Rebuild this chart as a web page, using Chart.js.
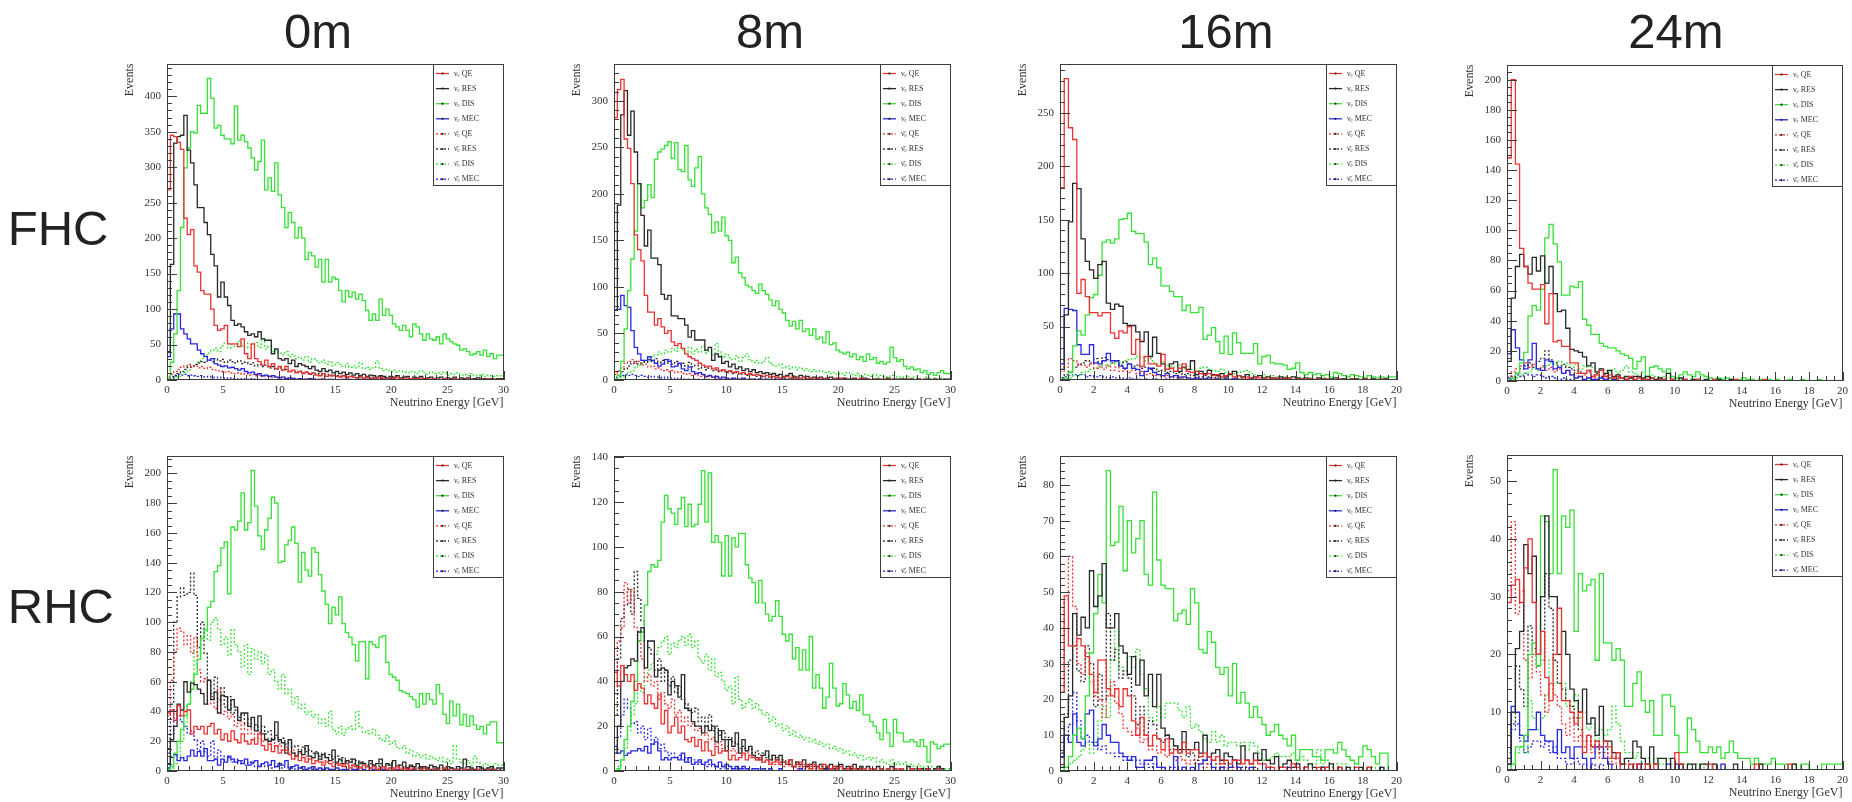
<!DOCTYPE html>
<html><head><meta charset="utf-8">
<script src="https://cdn.jsdelivr.net/npm/chart.js@4.4.1/dist/chart.umd.min.js"></script>
<style>
html,body{margin:0;padding:0;background:#fff;}
body{width:1852px;height:802px;position:relative;overflow:hidden;font-family:'Liberation Sans',Arial,sans-serif;}
.ttl{position:absolute;font-size:49px;line-height:49px;color:#222;white-space:nowrap;}
.ctl{width:200px;text-align:center;}
canvas{position:absolute;}
</style></head><body>
<script>
// ---------- labels ----------
const columnTitles = ['0m','8m','16m','24m'];
const rowTitles = ['FHC','RHC'];
const seriesLabels = ['\u03BD\u2091 QE','\u03BD\u2091 RES','\u03BD\u2091 DIS','\u03BD\u2091 MEC','\u03BD\u0304\u2091 QE','\u03BD\u0304\u2091 RES','\u03BD\u0304\u2091 DIS','\u03BD\u0304\u2091 MEC'];
const xAxisTitle = 'Neutrino Energy [GeV]';
const yAxisTitle = 'Events';
const binWidthWide = 0.3;   // 0-30 GeV histograms (100 bins)
const binWidthNarrow = 0.25; // 0-20 GeV histograms (80 bins)

// ---------- FHC 0m ----------
const fhc0_nueQE = [135,268,345,343,335,325,228,205,212,161,152,126,121,121,100,77,70,72,77,51,51,51,47,58,37,30,51,30,26,21,28,19,23,16,19,14,19,12,14,10,12,9,11,8,10,7,6,9,5,7,6,5,4,6,3,5,4,3,5,2,4,3,2,3,4,2,1,3,2,4,2,1,3,2,1,2,3,1,2,1,2,1,1,2,0,1,2,1,0,1,2,1,0,1,1,0,2,1,0,1];
const fhc0_nueRES = [5,40,163,334,343,345,373,324,306,275,243,243,222,205,177,161,117,138,117,105,84,77,79,75,68,63,65,61,68,58,56,56,37,44,30,28,30,23,28,19,23,21,19,16,19,14,12,16,12,14,10,12,9,11,8,10,7,9,6,8,5,7,6,4,6,5,3,5,4,6,3,4,5,2,4,3,5,2,3,4,2,3,4,2,3,2,4,1,3,2,3,1,2,3,1,2,1,2,1,2];
const fhc0_nueDIS = [0,3,25,65,126,215,299,327,350,348,387,376,376,425,397,355,359,345,340,340,333,386,338,345,336,327,313,296,308,338,268,285,266,306,261,243,215,236,222,200,215,200,170,180,175,159,170,138,170,138,145,142,126,110,126,117,124,114,121,112,98,84,93,84,114,91,100,91,79,75,70,77,70,61,79,75,65,56,65,58,56,61,51,65,58,54,51,49,42,44,40,35,37,40,35,42,33,37,30,35];
const fhc0_nueMEC = [10,33,72,93,93,72,65,58,51,51,42,37,33,28,30,23,21,19,20,17,18,16,14,16,12,10,11,8,9,6,7,5,6,4,3,4,2,3,2,1,2,1,1,2,1,0,1,1,0,1,1,0,0,1,0,1,0,0,1,0,0,1,0,0,0,1,0,0,0,0,1,0,0,0,0,0,1,0,0,0,0,0,0,1,0,0,0,0,0,0,0,0,1,0,0,0,0,0,0,0];
const fhc0_nuebarQE = [2,5,8,12,15,18,20,22,18,20,17,19,16,18,15,14,13,12,11,12,10,9,10,8,9,7,8,6,7,5,6,5,4,5,3,4,3,2,3,2,2,1,2,1,2,1,1,2,0,1,1,0,1,1,0,1,0,1,0,0,1,0,0,1,0,0,1,0,0,0,1,0,0,0,1,0,0,0,0,1,0,0,0,0,1,0,0,0,0,0,1,0,0,0,0,0,0,1,0,0];
const fhc0_nuebarRES = [0,1,3,6,9,12,15,18,20,22,24,26,25,28,26,30,27,29,25,28,26,24,27,23,25,22,24,20,22,19,21,17,19,15,17,14,15,12,13,11,12,10,11,9,10,8,9,7,8,6,7,6,5,6,4,5,4,3,4,3,3,2,3,2,2,3,1,2,2,1,2,1,1,2,1,1,0,1,1,0,1,1,0,1,0,1,0,0,1,0,0,1,0,0,1,0,0,0,1,0];
const fhc0_nuebarDIS = [0,0,1,3,5,8,10,14,18,22,25,30,35,38,42,45,40,48,52,45,50,47,55,48,52,45,50,53,46,58,44,48,40,42,38,35,40,33,36,30,32,28,33,25,30,27,24,28,22,26,20,24,22,19,23,18,20,17,24,16,18,15,17,27,16,13,15,12,14,11,13,12,10,12,11,9,13,10,8,11,9,10,8,11,7,9,8,10,7,8,6,9,7,6,8,5,7,6,5,6];
const fhc0_nuebarMEC = [1,3,5,7,8,7,8,6,7,6,5,6,4,5,4,3,4,3,2,3,2,2,1,2,1,1,2,1,0,1,1,0,1,0,0,1,0,0,1,0,0,0,1,0,0,0,0,1,0,0,0,0,0,0,1,0,0,0,0,0,0,0,0,0,0,0,1,0,0,0,0,0,0,0,0,0,0,0,0,0,0,0,0,0,0,0,0,0,0,0,0,0,0,0,0,0,0,0,0,0];

// ---------- FHC 8m ----------
const fhc8_nueQE = [146,282,312,323,259,249,211,156,140,128,91,73,73,59,66,57,50,53,41,37,39,34,28,25,23,21,18,16,14,15,12,13,10,11,9,10,8,9,7,8,6,7,5,6,5,4,5,3,4,3,2,3,4,2,3,1,2,3,1,2,1,2,1,1,2,0,1,1,2,0,1,1,0,1,2,0,1,0,1,0,1,0,1,1,0,0,1,0,1,0,0,1,0,1,0,0,1,0,0,0];
const fhc8_nueRES = [8,75,188,285,311,263,289,245,211,177,144,161,131,131,124,92,87,91,69,69,66,66,59,46,53,43,43,43,32,35,21,28,25,18,20,14,17,12,14,10,12,9,11,8,9,7,8,6,7,5,6,4,5,7,4,3,5,3,4,2,3,2,3,1,2,3,1,2,1,2,1,1,2,0,1,2,1,0,1,1,0,1,2,0,1,0,1,1,0,1,0,1,0,0,1,0,1,0,0,1];
const fhc8_nueDIS = [0,1,5,20,55,96,130,160,211,185,193,210,196,237,245,248,252,256,238,255,226,224,252,215,208,228,240,200,185,178,158,170,160,175,155,150,126,132,115,110,102,100,96,93,103,96,92,86,80,85,76,72,64,58,63,55,64,52,55,48,55,44,46,40,52,38,40,32,30,28,30,25,28,22,25,20,28,22,24,18,20,17,19,35,24,20,22,15,12,14,11,12,8,10,6,8,5,8,10,7];
const fhc8_nueMEC = [15,75,76,91,80,78,53,35,28,21,21,25,21,18,15,17,22,20,14,15,18,12,10,14,9,7,8,6,4,5,3,4,2,3,2,1,2,1,1,2,0,1,1,0,1,0,1,0,0,1,0,1,0,0,0,1,0,0,1,0,0,0,0,1,0,0,0,0,0,1,0,0,0,0,0,0,0,0,0,0,0,0,0,0,0,0,1,0,0,0,0,0,0,0,0,0,0,0,0,0];
const fhc8_nuebarQE = [2,6,10,14,18,20,22,18,20,16,17,14,15,12,13,10,11,9,10,8,9,7,6,7,5,6,4,5,3,4,3,2,3,2,2,1,2,1,1,2,1,0,1,1,0,1,0,1,0,0,1,0,0,1,0,0,0,1,0,0,0,1,0,0,0,0,1,0,0,0,0,0,1,0,0,0,0,0,0,1,0,0,0,0,0,0,0,0,1,0,0,0,0,0,0,0,0,0,0,0];
const fhc8_nuebarRES = [0,2,5,9,12,15,18,20,17,21,19,22,20,23,19,21,18,22,17,20,16,18,15,19,14,16,12,14,11,13,10,11,9,10,8,9,7,8,6,7,5,6,5,4,5,3,4,3,2,3,2,2,1,2,2,1,1,2,1,1,0,1,1,0,1,1,0,1,0,1,0,1,0,0,1,0,1,0,0,1,0,0,1,0,0,1,0,0,0,1,0,0,0,1,0,0,0,0,1,0];
const fhc8_nuebarDIS = [0,0,1,3,5,8,10,13,16,18,20,22,25,27,30,28,32,30,34,31,35,32,30,35,28,33,30,36,29,31,27,39,30,25,28,24,22,26,20,24,28,22,19,21,18,20,24,18,16,15,17,13,15,12,14,11,13,10,12,9,11,9,10,8,9,7,8,6,7,5,8,6,5,7,4,6,5,4,6,3,5,4,3,5,2,4,3,2,4,2,3,2,1,3,2,1,2,1,2,1];
const fhc8_nuebarMEC = [1,3,4,5,6,5,6,5,4,5,4,3,4,3,3,2,3,2,2,1,2,1,1,1,0,1,1,0,1,0,0,1,0,0,0,1,0,0,0,0,0,0,0,1,0,0,0,0,0,0,0,0,0,0,0,0,0,0,0,0,0,0,0,0,0,0,0,0,0,0,0,0,0,0,0,0,0,0,0,0,0,0,0,0,0,0,0,0,0,0,0,0,0,0,0,0,0,0,0,0];

// ---------- FHC 16m ----------
const fhc16_nueQE = [2,180,282,236,225,81,94,78,63,63,60,63,63,44,39,46,44,50,24,38,13,22,15,15,13,24,10,11,8,11,15,8,7,8,6,5,6,4,5,3,4,6,3,4,2,3,2,3,2,1,2,1,2,1,1,2,0,1,1,0,1,0,1,0,1,0,0,1,0,0,1,0,0,1,0,0,0,1,0,0];
const fhc16_nueRES = [5,10,61,148,184,179,132,111,103,95,108,111,72,66,71,69,53,51,51,45,36,45,22,40,25,15,10,15,17,8,12,10,18,5,8,6,9,5,4,6,3,5,8,4,3,5,2,3,4,2,3,2,1,3,2,1,3,2,1,2,1,0,2,1,0,1,2,0,1,0,1,1,0,1,0,1,0,0,1,0];
const fhc16_nueDIS = [0,0,2,7,32,46,42,61,77,80,98,129,131,128,132,150,151,156,139,137,137,129,108,114,105,88,88,83,78,78,65,70,63,63,68,38,42,49,36,25,41,24,44,35,25,25,25,34,15,22,23,16,15,15,14,10,11,16,7,5,7,5,6,4,5,3,7,6,4,3,5,4,3,2,4,3,2,3,2,3];
const fhc16_nueMEC = [5,15,67,66,65,33,24,24,33,16,15,18,25,18,18,13,11,15,11,10,4,8,11,7,5,4,6,3,4,2,3,2,1,2,1,1,2,0,1,0,1,0,1,0,0,0,1,0,0,0,0,0,0,1,0,0,0,0,0,0,0,0,0,0,0,0,0,0,0,0,0,0,0,0,0,0,0,0,0,0];
const fhc16_nuebarQE = [0,8,12,20,18,15,14,12,16,11,13,10,14,9,12,8,10,7,9,6,8,5,6,4,5,3,4,3,2,3,2,2,1,2,1,1,2,1,1,0,1,0,1,0,0,1,0,0,0,1,0,0,0,0,1,0,0,0,0,0,0,1,0,0,0,0,0,0,0,0,0,0,0,1,0,0,0,0,0,0];
const fhc16_nuebarRES = [0,2,5,8,12,14,16,18,15,20,17,21,19,16,18,14,17,15,13,14,11,12,10,11,8,9,7,8,6,7,5,6,4,5,3,4,3,2,3,2,2,1,2,1,1,0,1,1,0,1,0,1,0,0,1,0,0,1,0,0,0,0,1,0,0,0,0,0,1,0,0,0,0,0,0,1,0,0,0,0];
const fhc16_nuebarDIS = [0,0,1,2,4,5,7,8,10,11,12,14,13,15,17,16,18,19,20,22,21,18,20,16,15,17,14,13,12,14,11,13,10,9,11,12,10,9,8,10,7,8,6,7,8,9,6,5,4,5,3,4,3,2,3,2,3,1,2,1,2,1,1,2,1,0,1,1,0,1,0,1,0,0,1,0,0,1,0,0];
const fhc16_nuebarMEC = [0,2,3,4,5,4,5,3,4,3,4,3,2,3,2,2,1,2,1,1,0,1,0,1,0,0,1,0,0,0,0,0,0,0,0,0,0,0,0,0,0,0,0,0,0,0,0,0,0,0,0,0,0,0,0,0,0,0,0,0,0,0,0,0,0,0,0,0,0,0,0,0,0,0,0,0,0,0,0,0];

// ---------- FHC 24m ----------
const fhc24_nueQE = [0,148,200,144,88,76,65,61,61,64,38,58,26,27,23,23,12,12,5,5,7,3,4,7,3,4,2,3,2,1,3,1,2,1,1,2,0,1,1,0,1,0,0,1,0,0,1,0,0,0,1,0,0,0,0,1,0,0,0,0,0,0,1,0,0,0,0,0,0,0,0,0,0,0,0,0,0,0,0,0];
const fhc24_nueRES = [0,13,55,76,84,76,71,82,73,83,65,76,58,46,47,35,21,20,19,16,10,12,6,8,5,7,3,4,2,3,2,3,3,2,3,2,1,2,1,5,1,0,2,1,0,1,1,0,1,0,0,1,0,0,1,0,0,0,0,0,0,0,0,0,0,0,0,0,0,0,0,0,0,0,0,0,0,0,0,0];
const fhc24_nueDIS = [0,0,2,5,12,19,43,50,47,61,95,104,91,79,57,57,63,62,66,41,37,31,31,25,23,22,22,20,18,17,15,8,13,16,1,9,10,8,6,8,3,2,4,6,4,3,6,4,3,2,1,2,1,2,1,0,1,2,1,1,0,1,0,1,0,1,0,0,1,0,0,1,0,0,0,1,0,0,0,0];
const fhc24_nueMEC = [0,18,34,22,14,8,14,25,8,7,14,13,8,9,5,7,4,2,3,1,2,1,1,2,1,0,1,0,0,1,0,0,0,0,0,0,0,0,0,0,0,0,0,0,0,0,0,0,0,0,0,0,0,0,0,0,0,0,0,0,0,0,0,0,0,0,0,0,0,0,0,0,0,0,0,0,0,0,0,0];
const fhc24_nuebarQE = [0,3,6,8,10,12,9,11,8,10,7,9,6,8,5,6,4,5,3,4,2,3,2,2,1,2,1,1,0,1,0,0,0,0,0,0,0,0,0,0,0,0,0,0,0,0,0,0,0,0,0,0,0,0,0,0,0,0,0,0,0,0,0,0,0,0,0,0,0,0,0,0,0,0,0,0,0,0,0,0];
const fhc24_nuebarRES = [0,1,3,5,8,10,12,9,13,15,20,14,12,10,11,9,8,7,6,5,6,4,5,3,4,2,3,2,2,1,2,1,0,0,1,0,0,0,0,0,0,0,0,0,0,0,0,0,0,0,0,0,0,0,0,0,0,0,0,0,0,0,0,0,0,0,0,0,0,0,0,0,0,0,0,0,0,0,0,0];
const fhc24_nuebarDIS = [0,0,1,2,4,5,6,8,7,9,10,12,11,13,10,12,9,11,8,10,7,9,6,8,7,6,8,5,7,10,6,5,4,6,3,4,3,2,3,2,1,2,1,0,1,0,1,0,0,1,0,0,1,0,0,0,0,0,0,0,0,0,0,0,0,0,0,0,0,0,0,0,0,0,0,0,0,0,0,0];
const fhc24_nuebarMEC = [0,2,3,4,3,5,4,3,4,3,2,3,2,1,2,1,1,0,0,0,0,0,0,0,0,0,0,0,0,0,0,0,0,0,0,0,0,0,0,0,0,0,0,0,0,0,0,0,0,0,0,0,0,0,0,0,0,0,0,0,0,0,0,0,0,0,0,0,0,0,0,0,0,0,0,0,0,0,0,0];

// ---------- RHC 0m ----------
const rhc0_nueQE = [20,39,41,34,44,37,40,41,25,30,28,30,25,30,32,25,28,21,25,20,27,21,19,25,20,18,21,18,25,17,14,18,13,17,12,14,14,11,8,10,7,9,6,8,5,7,6,4,6,5,3,5,4,3,5,2,4,3,2,4,3,2,3,1,2,3,1,2,1,3,1,2,1,1,2,0,1,2,1,0,1,1,0,2,1,0,1,1,0,1,0,1,0,1,0,0,1,0,1,0];
const rhc0_nueRES = [3,5,21,30,45,41,60,53,59,58,55,52,45,61,48,53,39,51,50,41,48,43,34,39,39,30,36,27,37,25,21,20,21,33,21,19,12,21,12,10,13,11,17,10,9,12,8,11,9,7,14,6,8,5,7,6,8,4,6,5,3,7,4,5,8,3,5,4,7,3,4,6,2,4,3,5,2,3,2,4,3,2,4,1,3,2,1,3,2,8,3,2,1,3,2,1,2,3,1,2];
const rhc0_nueDIS = [0,1,3,12,20,28,37,45,55,65,75,89,95,110,114,134,138,150,154,119,164,162,168,187,162,167,202,178,158,149,162,170,184,180,140,141,152,155,164,153,127,147,135,131,150,147,132,121,112,99,110,105,117,99,93,90,85,74,87,87,62,87,85,83,90,91,73,65,63,61,54,53,52,50,48,43,52,45,52,48,45,58,52,38,32,47,37,45,31,38,30,37,31,28,30,25,31,33,33,19];
const rhc0_nueMEC = [0,2,9,11,7,9,7,10,14,10,13,10,15,7,7,8,4,8,6,10,8,6,7,5,8,4,6,7,3,5,6,4,7,3,5,4,7,2,3,4,2,3,1,2,3,1,2,1,2,1,1,2,0,1,1,0,1,1,0,1,0,0,1,0,0,1,0,0,0,1,0,0,0,0,1,0,0,0,0,0,1,0,0,0,0,0,0,1,0,0,0,0,0,0,0,0,0,0,0,0];
const rhc0_nuebarQE = [10,37,61,80,96,94,85,91,79,90,68,60,62,45,50,42,55,38,40,35,38,30,33,28,31,25,28,22,26,20,22,18,21,16,18,14,16,12,14,10,12,9,10,8,9,7,8,6,7,5,6,4,5,4,3,4,3,2,3,2,3,1,2,2,1,2,1,1,2,0,1,1,0,1,1,0,1,0,1,0,0,1,0,0,1,0,0,0,1,0,0,0,1,0,0,0,0,1,0,0];
const rhc0_nuebarRES = [2,15,45,100,117,123,118,120,133,118,83,100,79,61,52,63,48,56,43,50,39,41,36,38,32,35,29,31,27,30,25,27,22,24,20,22,18,19,16,17,14,16,13,14,12,13,10,12,9,11,8,10,7,9,6,8,5,7,5,6,4,5,4,3,5,3,4,2,3,4,2,3,2,3,1,2,3,1,2,1,2,1,2,1,1,2,1,0,1,2,1,0,1,1,0,1,0,1,0,1];
const rhc0_nuebarDIS = [0,0,2,5,10,20,30,45,60,80,78,90,95,88,100,103,95,85,90,78,95,85,80,70,85,65,82,75,80,72,78,65,68,60,55,65,52,55,45,50,42,45,38,40,36,38,32,35,30,40,28,25,30,24,28,30,28,40,30,26,27,25,28,24,22,20,24,18,20,16,15,17,12,14,10,12,9,11,8,10,8,7,9,6,8,5,17,8,6,5,7,4,10,6,3,5,4,3,5,4];
const rhc0_nuebarMEC = [2,12,25,41,37,33,30,25,27,21,14,20,13,10,20,8,14,10,7,9,6,8,5,7,4,6,5,3,4,5,3,4,2,3,4,2,3,1,2,1,2,1,1,0,1,1,0,1,0,1,0,0,1,0,0,0,1,0,0,0,0,0,0,0,0,1,0,0,0,0,0,0,0,0,0,0,0,0,0,0,0,0,0,0,0,0,0,0,0,0,0,0,0,0,0,0,0,0,0,0];

// ---------- RHC 8m ----------
const rhc8_nueQE = [6,44,38,47,43,40,43,36,39,37,30,34,30,28,34,21,27,17,20,24,17,20,14,13,15,11,14,9,13,9,7,11,8,9,9,5,7,5,6,8,5,7,6,5,6,4,5,3,4,5,3,4,3,5,2,3,4,2,3,1,3,2,1,3,2,1,2,1,2,0,1,2,1,0,1,1,0,1,1,0,1,0,1,0,1,0,1,0,0,1,0,1,0,0,1,0,0,1,0,0];
const rhc8_nueRES = [0,8,20,40,46,47,50,49,62,64,46,58,58,42,45,46,45,34,40,38,33,43,28,27,22,20,20,17,20,18,20,13,18,14,9,14,11,17,8,14,9,11,7,6,5,7,9,5,7,5,7,4,3,5,2,4,3,5,2,3,4,2,3,1,2,3,1,2,3,1,2,1,3,1,2,1,2,0,1,2,1,0,1,2,1,0,1,0,2,1,0,1,1,0,1,0,1,2,1,0];
const rhc8_nueDIS = [0,0,1,5,14,20,31,40,58,62,74,89,92,91,94,111,123,117,115,110,117,122,109,119,109,110,119,134,111,133,102,105,102,87,105,87,104,100,106,106,92,86,84,75,85,75,70,67,69,76,69,61,58,61,50,55,45,54,45,60,37,43,37,28,33,48,37,29,30,39,34,28,31,27,34,25,25,22,20,17,14,23,17,11,23,17,17,13,13,14,13,11,14,11,4,13,12,10,11,12];
const rhc8_nueMEC = [0,11,8,9,7,8,9,9,10,9,11,8,12,13,9,5,6,5,6,6,5,8,4,6,3,4,5,3,4,5,3,2,4,2,3,2,1,2,1,2,1,0,1,1,0,1,0,1,0,0,1,0,0,0,0,0,1,0,0,0,0,0,0,0,1,0,0,0,0,0,0,0,0,0,0,0,0,0,0,0,1,0,0,0,0,0,0,0,0,0,0,0,0,0,0,0,0,0,0,0];
const rhc8_nuebarQE = [10,44,58,64,84,75,81,64,58,50,40,43,38,40,32,35,30,28,32,25,27,22,24,20,21,18,19,16,17,14,15,12,13,10,11,9,10,8,9,7,8,6,7,5,6,4,5,4,3,4,3,2,3,2,2,1,2,1,1,2,1,0,1,1,0,1,0,1,0,0,1,0,0,1,0,0,0,0,0,0,0,0,0,0,0,0,0,0,0,0,0,0,0,0,0,0,0,0,0,0];
const rhc8_nuebarRES = [5,25,50,68,74,81,70,89,77,67,58,55,52,45,50,40,45,38,42,35,38,32,30,28,26,28,22,24,20,25,18,20,16,18,14,15,13,12,10,11,9,10,8,9,7,8,6,7,5,6,4,5,4,3,4,3,2,3,2,3,2,1,2,1,2,1,1,2,1,0,1,1,0,1,1,0,1,0,1,0,1,0,1,0,0,1,0,1,0,0,1,0,0,1,0,0,1,0,0,0];
const rhc8_nuebarDIS = [0,0,2,5,10,18,25,30,38,35,42,45,48,52,55,58,60,52,57,55,58,60,56,61,55,58,50,48,52,45,50,42,44,40,36,38,30,42,32,28,30,32,28,30,27,25,26,22,24,20,21,18,20,16,18,15,16,14,15,13,14,12,13,11,12,10,11,9,10,8,9,7,8,6,7,5,6,5,6,4,5,4,3,5,3,4,3,4,2,3,2,3,2,1,2,2,1,2,1,1];
const rhc8_nuebarMEC = [2,8,15,25,32,28,21,22,17,20,14,19,12,15,10,12,9,7,8,6,7,5,6,4,5,3,4,3,2,3,2,2,1,2,1,1,0,1,0,1,0,0,0,0,0,0,0,0,0,0,0,0,0,0,0,0,0,0,0,0,0,0,0,0,0,0,0,0,0,0,0,0,0,0,0,0,0,0,0,0,0,0,0,0,0,0,0,0,0,0,0,0,0,0,0,0,0,0,0,0];

// ---------- RHC 16m ----------
const rhc16_nueQE = [4,22,49,35,35,37,35,32,27,22,31,31,23,21,23,18,23,21,14,10,15,10,7,10,9,6,9,5,6,5,8,5,6,6,4,5,4,3,4,2,3,2,3,3,2,3,2,3,2,2,1,1,0,1,1,0,2,1,0,1,0,0,1,0,1,0,0,1,0,0,0,1,0,0,1,0,0,0,0,0];
const rhc16_nueRES = [0,1,15,21,44,38,43,40,56,46,49,58,40,40,44,35,33,27,32,24,31,21,27,18,27,12,10,9,7,6,11,6,6,8,5,10,4,5,6,3,5,4,3,2,7,3,2,5,3,6,3,2,4,1,2,3,1,2,0,1,2,1,0,1,1,2,0,1,0,1,0,0,1,0,1,0,0,1,0,0];
const rhc16_nueDIS = [0,0,1,4,10,12,9,21,33,44,55,47,84,63,64,74,56,70,61,65,70,55,52,78,59,52,51,51,42,44,45,41,51,47,34,33,39,36,29,27,29,21,30,19,22,19,15,18,15,13,10,11,13,10,9,7,10,3,6,6,6,4,4,3,6,6,5,8,6,4,3,2,4,7,6,4,2,5,5,0];
const rhc16_nueMEC = [4,4,10,8,16,8,7,16,17,7,9,13,10,8,8,5,4,3,4,1,1,3,3,4,1,1,0,0,4,0,1,0,1,0,2,3,4,1,0,1,0,1,3,1,0,0,1,0,0,0,1,0,0,0,0,1,0,0,0,0,0,0,0,1,0,0,0,0,0,0,0,0,0,0,0,0,0,0,0,0];
const rhc16_nuebarQE = [2,22,48,60,46,30,27,33,25,21,20,15,21,25,19,16,12,11,10,12,8,9,6,7,5,6,4,5,3,4,3,2,3,2,2,1,2,1,1,0,1,0,1,0,0,0,0,0,0,0,0,0,0,0,0,0,0,0,0,0,0,0,0,0,0,0,0,0,0,0,0,0,0,0,0,0,0,0,0,0];
const rhc16_nuebarRES = [0,5,16,31,35,28,25,35,30,18,27,20,44,31,34,26,28,26,21,13,18,10,14,13,9,8,10,6,7,5,6,4,5,3,4,3,2,3,2,1,2,1,1,0,1,1,0,1,0,0,0,0,0,0,0,0,0,0,0,0,0,0,0,0,0,0,0,0,0,0,0,0,0,0,0,0,0,0,0,0];
const rhc16_nuebarDIS = [0,0,1,2,3,4,6,8,5,8,14,18,15,31,39,29,27,32,29,34,27,23,15,14,18,15,19,19,19,17,15,18,12,13,11,9,8,11,8,10,7,8,8,7,8,6,8,7,5,3,3,4,5,4,4,4,5,3,4,3,2,2,6,2,3,1,2,1,2,1,1,2,1,0,1,1,0,1,0,0];
const rhc16_nuebarMEC = [2,5,9,13,22,14,9,10,8,8,6,7,5,5,4,4,3,4,3,3,2,2,1,2,1,1,0,1,1,0,1,0,0,0,0,0,0,0,0,0,0,0,0,0,0,0,0,0,0,0,0,0,0,0,0,0,0,0,0,0,0,0,0,0,0,0,0,0,0,0,0,0,0,0,0,0,0,0,0,0];

// ---------- RHC 24m ----------
const rhc24_nueQE = [5,29,32,33,29,35,40,29,20,24,16,12,20,28,12,12,10,8,10,3,6,4,5,4,5,4,2,3,0,0,1,0,1,0,1,0,1,0,0,0,0,3,1,0,0,0,0,0,0,1,0,0,0,0,0,0,0,0,0,0,1,0,0,0,0,0,0,0,1,0,0,0,0,0,0,0,0,0,0,0];
const rhc24_nueRES = [0,1,10,21,24,39,34,37,20,30,44,30,30,20,24,20,14,12,10,14,8,9,6,11,5,5,3,3,1,2,2,5,4,2,1,4,1,2,2,0,2,0,1,0,1,1,0,1,1,0,1,0,0,0,0,1,0,0,0,0,0,1,0,0,0,0,0,0,0,1,0,0,0,0,0,0,0,0,0,0];
const rhc24_nueDIS = [0,0,1,4,4,6,20,22,18,44,43,34,52,34,44,42,45,24,34,31,32,33,19,34,22,22,19,21,19,11,11,15,17,12,10,12,6,6,13,13,11,6,3,3,9,7,5,3,3,4,3,4,2,3,5,3,2,2,2,1,2,1,1,1,2,1,1,1,0,1,0,1,1,0,0,0,1,1,1,1];
const rhc24_nueMEC = [0,1,11,10,6,5,7,7,10,6,5,5,3,7,3,4,2,4,4,2,0,2,4,4,2,1,0,0,0,0,0,0,1,0,0,0,0,0,0,1,0,1,0,0,0,0,0,0,0,0,0,0,1,0,0,0,0,0,0,0,0,0,0,0,0,0,0,0,0,0,0,0,0,0,0,0,0,0,0,0];
const rhc24_nuebarQE = [13,31,43,27,31,19,16,20,17,13,10,15,13,11,8,6,9,5,6,4,5,3,4,2,3,2,1,2,1,1,0,1,0,0,0,0,0,0,0,0,0,0,0,0,0,0,0,0,0,0,0,0,0,0,0,0,0,0,0,0,0,0,0,0,0,0,0,0,0,0,0,0,0,0,0,0,0,0,0,0];
const rhc24_nuebarRES = [0,3,8,18,14,11,25,21,18,19,34,28,19,15,14,12,11,9,7,5,6,4,5,3,4,2,3,2,1,2,1,1,0,1,0,0,0,0,0,0,0,0,0,0,0,0,0,0,0,0,0,0,0,0,0,0,0,0,0,0,0,0,0,0,0,0,0,0,0,0,0,0,0,0,0,0,0,0,0,0];
const rhc24_nuebarDIS = [0,0,1,3,4,3,12,9,7,9,13,19,15,15,15,11,11,13,9,10,7,8,5,7,6,7,11,8,5,3,3,2,3,1,2,1,2,1,1,2,1,1,0,1,1,0,1,0,1,0,1,0,0,0,0,0,0,0,0,0,0,0,0,0,0,0,0,0,0,0,0,0,0,0,0,0,0,0,0,0];
const rhc24_nuebarMEC = [4,2,7,8,5,3,4,5,5,4,5,3,4,2,2,1,1,2,1,1,0,1,0,1,0,0,0,0,0,0,0,0,0,0,0,0,0,0,0,0,0,0,0,0,0,0,0,0,0,0,0,0,0,0,0,0,0,0,0,0,0,0,0,0,0,0,0,0,0,0,0,0,0,0,0,0,0,0,0,0];

// ---------- styles & layout ----------
const seriesColors = ['rgb(235,50,50)','rgb(40,40,40)','rgb(55,225,55)','rgb(40,40,225)'];
const panels = [
  {series:[fhc0_nueQE,fhc0_nueRES,fhc0_nueDIS,fhc0_nueMEC,fhc0_nuebarQE,fhc0_nuebarRES,fhc0_nuebarDIS,fhc0_nuebarMEC], bw:binWidthWide, xMax:30, xStep:5, xMinor:1, yMax:446, yStep:50, yMinor:10, box:[167,61,505,380]},
  {series:[fhc8_nueQE,fhc8_nueRES,fhc8_nueDIS,fhc8_nueMEC,fhc8_nuebarQE,fhc8_nuebarRES,fhc8_nuebarDIS,fhc8_nuebarMEC], bw:binWidthWide, xMax:30, xStep:5, xMinor:1, yMax:340, yStep:50, yMinor:10, box:[614,61,952,380]},
  {series:[fhc16_nueQE,fhc16_nueRES,fhc16_nueDIS,fhc16_nueMEC,fhc16_nuebarQE,fhc16_nuebarRES,fhc16_nuebarDIS,fhc16_nuebarMEC], bw:binWidthNarrow, xMax:20, xStep:2, xMinor:0.5, yMax:296, yStep:50, yMinor:10, box:[1060,61,1398,380]},
  {series:[fhc24_nueQE,fhc24_nueRES,fhc24_nueDIS,fhc24_nueMEC,fhc24_nuebarQE,fhc24_nuebarRES,fhc24_nuebarDIS,fhc24_nuebarMEC], bw:binWidthNarrow, xMax:20, xStep:2, xMinor:0.5, yMax:210, yStep:20, yMinor:5, box:[1507,62,1844,381]},
  {series:[rhc0_nueQE,rhc0_nueRES,rhc0_nueDIS,rhc0_nueMEC,rhc0_nuebarQE,rhc0_nuebarRES,rhc0_nuebarDIS,rhc0_nuebarMEC], bw:binWidthWide, xMax:30, xStep:5, xMinor:1, yMax:212, yStep:20, yMinor:5, box:[167,453,505,771]},
  {series:[rhc8_nueQE,rhc8_nueRES,rhc8_nueDIS,rhc8_nueMEC,rhc8_nuebarQE,rhc8_nuebarRES,rhc8_nuebarDIS,rhc8_nuebarMEC], bw:binWidthWide, xMax:30, xStep:5, xMinor:1, yMax:140.7, yStep:20, yMinor:5, box:[614,453,952,771]},
  {series:[rhc16_nueQE,rhc16_nueRES,rhc16_nueDIS,rhc16_nueMEC,rhc16_nuebarQE,rhc16_nuebarRES,rhc16_nuebarDIS,rhc16_nuebarMEC], bw:binWidthNarrow, xMax:20, xStep:2, xMinor:0.5, yMax:88.2, yStep:10, yMinor:2, box:[1060,453,1398,771]},
  {series:[rhc24_nueQE,rhc24_nueRES,rhc24_nueDIS,rhc24_nueMEC,rhc24_nuebarQE,rhc24_nuebarRES,rhc24_nuebarDIS,rhc24_nuebarMEC], bw:binWidthNarrow, xMax:20, xStep:2, xMinor:0.5, yMax:54.6, yStep:10, yMinor:2, box:[1507,452,1844,770]}
];
const colTitlePos = [318,770,1226,1676];
const rowTitlePos = [203.5,581.8];

// ---------- titles (HTML text) ----------
columnTitles.forEach((t,i)=>{
  const d=document.createElement('div'); d.className='ttl ctl'; d.textContent=t;
  d.style.left=(colTitlePos[i]-100)+'px'; d.style.top='7px'; document.body.appendChild(d);
});
rowTitles.forEach((t,i)=>{
  const d=document.createElement('div'); d.className='ttl'; d.textContent=t;
  d.style.left='7.8px'; d.style.top=rowTitlePos[i]+'px'; document.body.appendChild(d);
});

function toSteps(arr,w){
  const pts=arr.map((v,i)=>({x:+(i*w).toFixed(4),y:v}));
  pts.push({x:+(arr.length*w).toFixed(4),y:arr[arr.length-1]});
  return pts;
}

const SERIF='"Liberation Serif","DejaVu Serif",serif';
const rootFrame={
  id:'rootFrame',
  afterDatasetsDraw(chart,args,o){
    const {ctx,chartArea:{left,top,right,bottom},scales:{x,y}}=chart;
    ctx.save();
    ctx.strokeStyle='#3c3c3c'; ctx.lineWidth=1; ctx.setLineDash([]);
    ctx.beginPath();
    const ny=Math.floor(o.yMax/o.yMinor+1e-6);
    for(let i=0;i<=ny;i++){
      const v=i*o.yMinor; const py=Math.round(y.getPixelForValue(v))+0.5;
      const r=v/o.yStep; const major=Math.abs(r-Math.round(r))<1e-6;
      ctx.moveTo(left,py); ctx.lineTo(left+(major?10:5),py);
    }
    const nx=Math.round(o.xMax/o.xMinor);
    for(let i=0;i<=nx;i++){
      const v=i*o.xMinor; const px=Math.round(x.getPixelForValue(v))+0.5;
      const r=v/o.xStep; const major=Math.abs(r-Math.round(r))<1e-6;
      ctx.moveTo(px,bottom); ctx.lineTo(px,bottom-(major?9:5));
    }
    ctx.stroke();
    ctx.strokeRect(Math.round(left)+0.5,Math.round(top)+0.5,Math.round(right-left)-1,Math.round(bottom-top)-1);
    // legend box (ROOT TLegend style)
    const lw=71, lh=122, lx=Math.round(right)-lw, ly=Math.round(top);
    ctx.fillStyle='#fff'; ctx.fillRect(lx,ly,lw,lh);
    ctx.strokeStyle='#3c3c3c'; ctx.strokeRect(lx+0.5,ly+0.5,lw-1,lh-1);
    chart.data.datasets.forEach((ds,k)=>{
      const cy=ly+9.5+k*15.1;
      ctx.strokeStyle=ds.borderColor; ctx.lineWidth=1.3; ctx.setLineDash(ds.borderDash||[]);
      ctx.beginPath(); ctx.moveTo(lx+3,cy); ctx.lineTo(lx+16,cy); ctx.stroke();
      ctx.setLineDash([]);
      ctx.fillStyle='#222'; ctx.beginPath(); ctx.arc(lx+9.5,cy,1.1,0,Math.PI*2); ctx.fill();
      ctx.fillStyle='#333'; ctx.font='8px '+SERIF; ctx.textBaseline='middle'; ctx.textAlign='left';
      ctx.fillText(ds.label,lx+21,cy);
    });
    ctx.restore();
  }
};

const Y_AXIS_W=50, X_AXIS_H=30, PAD_T=10, PAD_R=8;
panels.forEach(p=>{
  const [L,T,R,B]=p.box;
  const c=document.createElement('canvas');
  const W=R-L+Y_AXIS_W+PAD_R, H=B-T+PAD_T+X_AXIS_H;
  c.width=W; c.height=H; c.style.left=(L-Y_AXIS_W)+'px'; c.style.top=(T-PAD_T)+'px';
  c.style.width=W+'px'; c.style.height=H+'px';
  document.body.appendChild(c);
  new Chart(c,{
    type:'line',
    data:{datasets:p.series.map((arr,k)=>({
      label:seriesLabels[k], data:toSteps(arr,p.bw),
      borderColor:seriesColors[k%4], backgroundColor:seriesColors[k%4],
      borderDash:k>=4?[2,2]:[], borderWidth:1.3,
      pointRadius:0, stepped:'after', fill:false, tension:0
    }))},
    options:{
      responsive:false, animation:false, events:[], devicePixelRatio:1,
      layout:{padding:{top:PAD_T,right:PAD_R,bottom:0,left:0}},
      plugins:{legend:{display:false},tooltip:{enabled:false},
        rootFrame:{xMax:p.xMax,xStep:p.xStep,xMinor:p.xMinor,yMax:p.yMax,yStep:p.yStep,yMinor:p.yMinor}},
      scales:{
        x:{type:'linear',min:0,max:p.xMax,
          afterFit:s=>{s.height=X_AXIS_H;},
          grid:{display:false,drawTicks:false},border:{display:false},
          ticks:{stepSize:p.xStep,autoSkip:false,maxRotation:0,includeBounds:false,padding:4,color:'#333',font:{family:SERIF,size:11}},
          title:{display:true,text:xAxisTitle,align:'end',color:'#333',font:{family:SERIF,size:12},padding:{top:0,bottom:0}}},
        y:{type:'linear',min:0,max:p.yMax,
          afterFit:s=>{s.width=Y_AXIS_W;},
          grid:{display:false,drawTicks:false},border:{display:false},
          ticks:{stepSize:p.yStep,includeBounds:false,padding:6,color:'#333',font:{family:SERIF,size:11}},
          title:{display:true,text:yAxisTitle,align:'end',color:'#333',font:{family:SERIF,size:12},padding:{top:6,bottom:0}}}
      }
    },
    plugins:[rootFrame]
  });
});
</script>
</body></html>
